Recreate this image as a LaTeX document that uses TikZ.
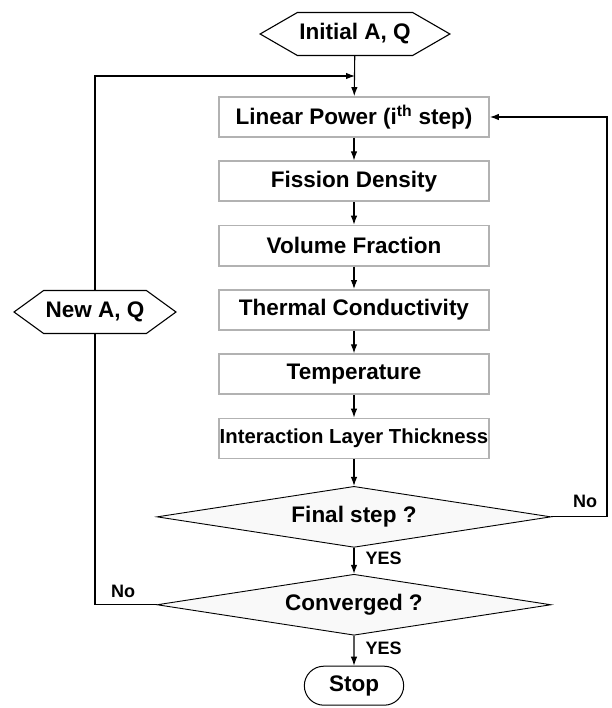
\documentclass[tikz,border=0pt]{standalone}
\usepackage{fontspec}
\setmainfont{Liberation Sans}
\usepackage{tikz}
\usetikzlibrary{positioning,arrows.meta}
\usetikzlibrary{shapes.geometric,shapes.symbols,shapes.misc}
\tikzstyle{procbox}=[rectangle,draw=gray!60,line width=1.8pt,minimum width=270pt,
minimum height=40pt,inner sep=0pt]
\tikzstyle{decision}=[diamond,aspect=6.46,draw=black,line width=0.9pt,fill=gray!5,
minimum width=394pt,minimum height=61pt,inner sep=0pt]
\tikzstyle{inout}=[signal,signal to=west and east,draw=black,line width=1.1pt,
fill=white,minimum height=43pt,inner xsep=2pt,font=\fontsize{22.5}{26}\selectfont\bfseries]
\tikzstyle{terminal}=[rounded rectangle,draw=black,line width=1pt,minimum width=106pt,
minimum height=39pt]
\tikzstyle{answer}=[font=\fontsize{18}{20}\selectfont\bfseries,inner sep=0pt]

\begin{document}
\begin{tikzpicture}[x=1pt,y=-1pt,>={Latex[length=9pt,width=6.5pt]},line width=1.1pt,
    font=\fontsize{22.5}{26}\selectfont\bfseries,node distance=22.5pt]
    \useasboundingbox (0,0) rectangle (611,708);
    % start: initial values
    \node (init) [inout,signal pointer angle=60] at (355,34) {Initial A, Q};
    % main column: one pass per step
    \node (power)   [procbox] at (354,117) {Linear Power (i\textsuperscript{th} step)};
    \node (fission) [procbox,below=of power]   {Fission Density};
    \node (volume)  [procbox,below=of fission] {Volume Fraction};
    \node (conduct) [procbox,below=of volume]  {Thermal Conductivity};
    \node (temp)    [procbox,below=of conduct] {Temperature};
    \node (layer)   [procbox,below=of temp,font=\fontsize{20.3}{24}\selectfont\bfseries]
      {Interaction Layer Thickness};
    % checks
    \node (final) [decision,below=26.5pt of layer] {Final step ?};
    \node (conv)  [decision,below=26pt of final] {Converged ?};
    \node (stop)  [terminal,below=30pt of conv] {Stop};
    % new values on the way back
    \node (newaq) [inout,signal pointer angle=72] at (95,312) {New A, Q};
    \coordinate (join) at (355,76);
    \coordinate (loopx) at (607,517);
    % answers
    \node (yes1) [answer,anchor=west] at (365,558) {YES};
    \node (yes2) [answer,anchor=west] at (365,648) {YES};
    \node (no1)  [answer] at (585,501) {No};
    \node (no2)  [answer] at (123,591) {No};
    % the diagram elements are now connected through arrows:
    \path[->]
    (init)    edge (power)
    (power)   edge (fission)
    (fission) edge (volume)
    (volume)  edge (conduct)
    (conduct) edge (temp)
    (temp)    edge (layer)
    (layer)   edge (final)
    (final)   edge (conv)
    (conv)    edge (stop);
    \draw[->] (final.east) -- (final.east -| loopx) |- (power.east);
    \draw[->] (conv.west) -| (newaq.south) (newaq.north) |- (join);
\end{tikzpicture}
\end{document}
